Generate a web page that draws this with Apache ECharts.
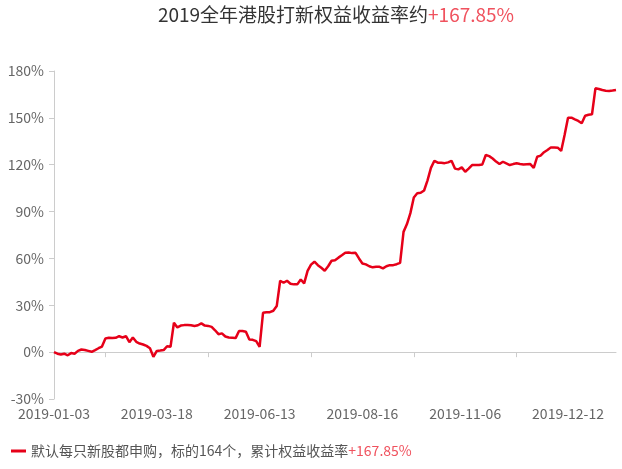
<!DOCTYPE html>
<html>
<head>
<meta charset="utf-8">
<script src="https://cdn.jsdelivr.net/npm/echarts@6/dist/echarts.min.js"></script>
<style>html,body{margin:0;padding:0;background:#fff}#c{width:622px;height:469px}</style>
</head>
<body>
<div id="c"></div>
<script>
var dates = [
'2019-01-03','2019-01-08','2019-01-10','2019-01-11','2019-01-15','2019-01-16','2019-01-17','2019-01-18','2019-01-22','2019-01-24',
'2019-01-25','2019-01-28','2019-01-29','2019-01-30','2019-01-31','2019-02-01','2019-02-04','2019-02-11','2019-02-12','2019-02-13',
'2019-02-15','2019-02-18','2019-02-20','2019-02-22','2019-02-25','2019-02-27','2019-02-28','2019-03-05','2019-03-07','2019-03-13',
'2019-03-18',
'2019-03-20','2019-03-22','2019-03-26','2019-03-28','2019-04-01','2019-04-03','2019-04-09','2019-04-12','2019-04-16','2019-04-18',
'2019-04-24','2019-04-30','2019-05-03','2019-05-08','2019-05-10','2019-05-14','2019-05-16','2019-05-17','2019-05-21','2019-05-23',
'2019-05-27','2019-05-28','2019-05-29','2019-05-30','2019-06-04','2019-06-05','2019-06-06','2019-06-11','2019-06-12',
'2019-06-13',
'2019-06-14','2019-06-18','2019-06-21','2019-06-25','2019-06-26','2019-06-27','2019-06-28','2019-07-03','2019-07-05','2019-07-09',
'2019-07-10','2019-07-11','2019-07-12','2019-07-15','2019-07-16','2019-07-17','2019-07-18','2019-07-19','2019-07-22','2019-07-23',
'2019-07-25','2019-07-26','2019-07-30','2019-08-01','2019-08-05','2019-08-07','2019-08-09','2019-08-13','2019-08-14',
'2019-08-16',
'2019-08-20','2019-08-23','2019-08-28','2019-08-30','2019-09-04','2019-09-06','2019-09-10','2019-09-12','2019-09-17','2019-09-20',
'2019-09-25','2019-09-27','2019-10-03','2019-10-08','2019-10-09','2019-10-11','2019-10-15','2019-10-16','2019-10-17','2019-10-18',
'2019-10-22','2019-10-24','2019-10-25','2019-10-29','2019-10-30','2019-10-31','2019-11-01','2019-11-04','2019-11-05',
'2019-11-06',
'2019-11-07','2019-11-08','2019-11-11','2019-11-12','2019-11-13','2019-11-13','2019-11-14','2019-11-15','2019-11-18','2019-11-19',
'2019-11-20','2019-11-21','2019-11-22','2019-11-25','2019-11-26','2019-11-27','2019-11-28','2019-11-28','2019-11-29','2019-12-02',
'2019-12-03','2019-12-04','2019-12-05','2019-12-06','2019-12-09','2019-12-10','2019-12-10','2019-12-11','2019-12-11',
'2019-12-12',
'2019-12-13','2019-12-16','2019-12-17','2019-12-18','2019-12-18','2019-12-19','2019-12-20','2019-12-20','2019-12-23','2019-12-24',
'2019-12-27','2019-12-30','2019-12-30','2019-12-31'
];
var returns = [
0,-1.0,-1.5,-1.0,-2.0,-0.6,-1.0,0.8,1.7,1.4,
0.8,0.2,1.3,2.5,3.6,8.8,9.2,9.0,9.2,10.2,
9.4,10.2,6.4,9.4,6.6,5.5,4.9,4.0,2.5,-3.0,
0.8,1.0,1.3,3.8,3.4,18.8,15.8,17.0,17.3,17.3,
17.2,16.8,17.2,18.4,17.0,16.8,16.2,14.0,11.5,12.0,
10.0,9.4,9.2,9.0,13.5,13.5,13.0,8.1,7.9,7.0,
3.4,25.2,25.6,25.6,26.5,29.5,45.7,44.4,45.7,43.8,
43.4,43.4,46.5,44.0,52.0,56.0,57.9,55.7,54.0,52.1,
55.0,58.5,58.9,60.5,62.0,63.6,63.8,63.4,63.6,60.0,
56.8,56.2,55.0,54.3,54.6,54.6,53.6,55.0,55.7,55.7,
56.3,57.2,77.0,82.0,89.0,99.0,101.7,102.0,103.5,110.0,
118.0,122.5,121.3,121.3,121.0,121.5,122.5,117.5,117.0,118.3,
115.5,117.5,119.8,119.8,119.8,120.2,126.2,125.5,124.0,122.0,
120.4,121.9,120.8,119.8,120.4,120.9,120.5,120.2,120.3,120.4,
118.0,125.1,125.8,128.0,129.4,131.1,131.0,130.9,128.8,139.0,
150.1,150.1,149.0,148.0,146.5,151.4,152.0,152.3,168.9,168.5,
167.8,167.4,167.2,167.5,167.85
];
var yTicks = { min: -30, max: 180, interval: 30 };
var titleMain = '2019全年港股打新权益收益率约';
var titleHighlight = '+167.85%';
var seriesName = '默认每只新股都申购，标的164个，累计权益收益率';
var seriesHighlight = '+167.85%';
var labelStep = 30;

var chart = echarts.init(document.getElementById('c'), null, { renderer: 'canvas' });
var font = '"Microsoft YaHei","Noto Sans CJK SC","Noto Sans",sans-serif';
chart.setOption({
  animation: false,
  textStyle: { fontFamily: font },
  title: {
    text: '{a|' + titleMain + '}{b|' + titleHighlight + '}',
    left: 331, top: 0, textAlign: 'center',
    textStyle: {
      fontWeight: 'normal',
      rich: {
        a: { fontSize: 19, color: '#333', fontWeight: 'normal', fontFamily: font },
        b: { fontSize: 19, color: '#f0525e', fontWeight: 'normal', fontFamily: font }
      }
    }
  },
  legend: {
    left: 6, bottom: 6,
    icon: 'rect', itemWidth: 15, itemHeight: 3, itemGap: 5,
    data: [seriesName],
    formatter: function (n) { return '{a|' + n + '}{b|' + seriesHighlight + '}'; },
    textStyle: {
      padding: [0, 0, 0, 0],
      rich: {
        a: { fontSize: 14, color: '#555', fontFamily: font },
        b: { fontSize: 14, color: '#f0525e', fontFamily: font }
      }
    }
  },
  grid: { left: 54, right: 6, top: 71, bottom: 70, containLabel: false },
  xAxis: {
    type: 'category',
    data: dates,
    boundaryGap: false,
    axisLine: { onZero: true, lineStyle: { color: '#ccc' } },
    axisTick: {
      show: true, length: 5, lineStyle: { color: '#ccc' },
      interval: function (i) { return i % labelStep === labelStep / 2; }
    },
    axisLabel: {
      interval: function (i) { return i % labelStep === 0; },
      margin: 8, fontSize: 14, color: '#666', fontFamily: font
    },
    splitLine: { show: false }
  },
  yAxis: {
    type: 'value',
    min: yTicks.min, max: yTicks.max, interval: yTicks.interval,
    axisLine: { show: true, lineStyle: { color: '#ccc' } },
    axisTick: { show: true, length: 5, lineStyle: { color: '#ccc' } },
    axisLabel: { formatter: '{value}%', fontSize: 14, color: '#666', margin: 10, fontFamily: font },
    splitLine: { show: false }
  },
  series: [{
    name: seriesName,
    type: 'line',
    data: returns,
    showSymbol: false,
    symbol: 'none',
    lineStyle: { color: '#e60019', width: 2.5 },
    itemStyle: { color: '#e60019' }
  }]
});
</script>
</body>
</html>
